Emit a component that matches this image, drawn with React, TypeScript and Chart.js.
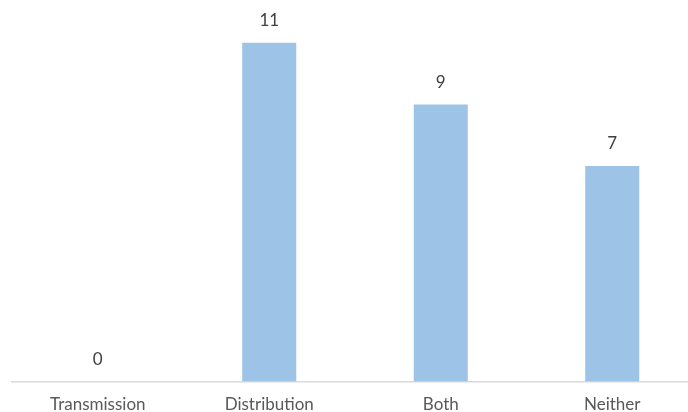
import React, { useEffect, useRef } from "react";
import { Chart, registerables } from "chart.js";

Chart.register(...registerables);

const categories = ["Transmission", "Distribution", "Both", "Neither"];
const counts = [0, 11, 9, 7];
const yMax = 12;

const FONT = "Lato, 'Open Sans', sans-serif";

// Draws each bar's value just above its top edge.
const valueLabels = {
  id: "valueLabels",
  afterDatasetsDraw(chart: any) {
    const { ctx } = chart;
    const meta = chart.getDatasetMeta(0);
    ctx.save();
    ctx.font = `17px ${FONT}`;
    ctx.fillStyle = "#404040";
    ctx.textAlign = "center";
    ctx.textBaseline = "middle";
    meta.data.forEach((bar: any, i: number) => {
      ctx.fillText(String(counts[i]), bar.x, bar.y - 22);
    });
    ctx.restore();
  },
};

export default function App() {
  const ref = useRef<HTMLCanvasElement | null>(null);

  useEffect(() => {
    document.body.style.margin = "0";
    const chart = new Chart(ref.current as HTMLCanvasElement, {
      type: "bar",
      data: {
        labels: categories,
        datasets: [
          {
            data: counts,
            backgroundColor: "#9DC3E6",
            categoryPercentage: 1,
            barPercentage: 0.315,
          },
        ],
      },
      options: {
        animation: false,
        responsive: false,
        maintainAspectRatio: false,
        layout: { padding: { left: 12, top: 12, right: 0, bottom: -16 } },
        plugins: { legend: { display: false }, tooltip: { enabled: false } },
        scales: {
          x: {
            grid: { display: false, drawTicks: false },
            border: { display: true, color: "#D9D9D9", width: 1.5 },
            ticks: {
              color: "#595959",
              font: { family: FONT, size: 17 },
              padding: 13,
            },
          },
          y: {
            display: false,
            min: 0,
            max: yMax,
          },
        },
      },
      plugins: [valueLabels],
    });
    return () => chart.destroy();
  }, []);

  return (
    <div style={{ width: 688, height: 412, overflow: "hidden", position: "relative", background: "#fff" }}>
      <canvas ref={ref} width={698} height={412} style={{ display: "block" }} />
    </div>
  );
}
